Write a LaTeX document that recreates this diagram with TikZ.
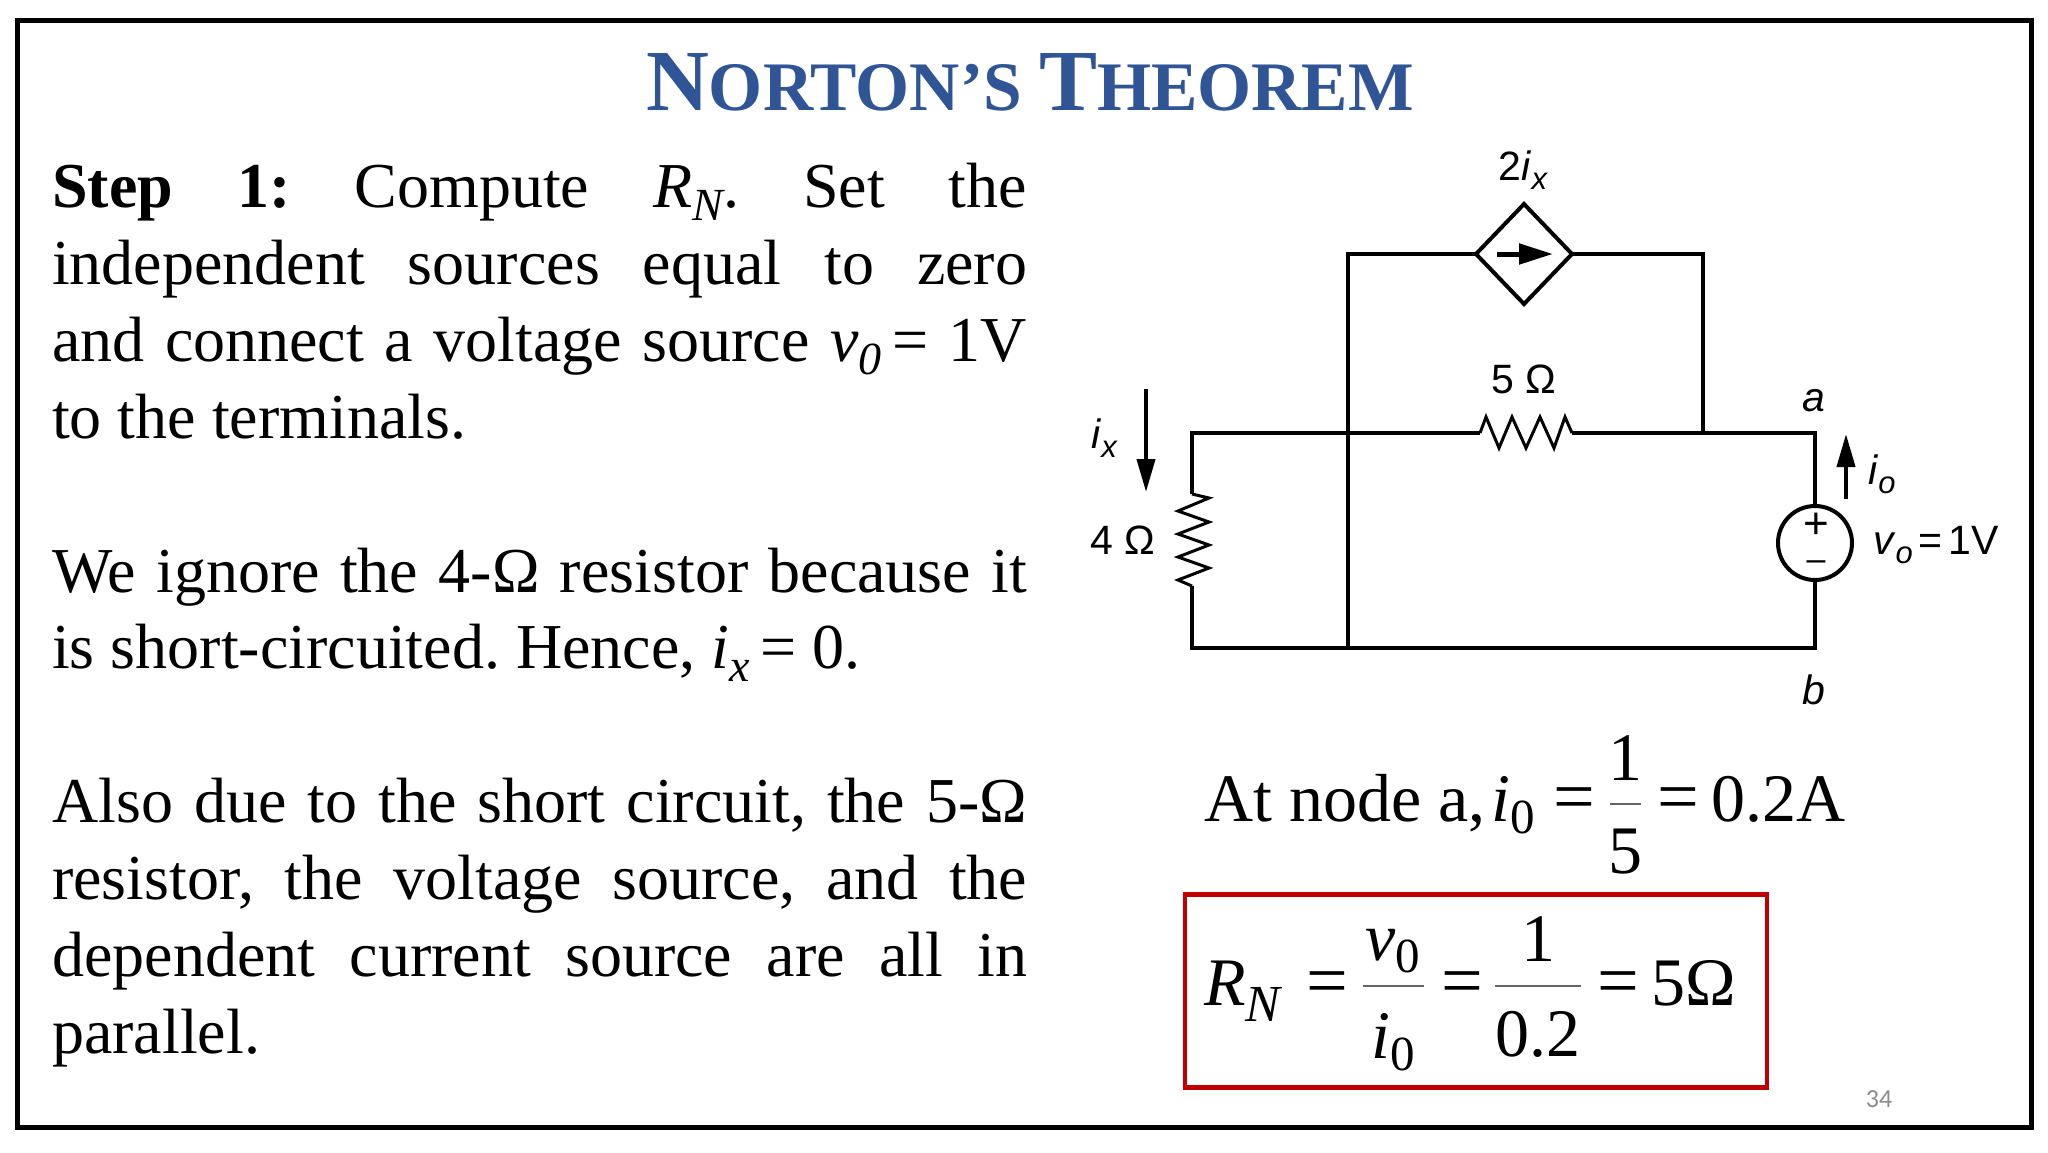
\documentclass[tikz,border=0pt]{standalone}
\usepackage{fontspec}
\setmainfont{Liberation Serif}
\newfontfamily\circfont{Liberation Sans}
\newfontfamily\numfont{Carlito}
\usetikzlibrary{arrows.meta}
\definecolor{titleblue}{HTML}{2F5597}
\definecolor{boxred}{HTML}{C00000}
\definecolor{pagegray}{HTML}{8C8C8C}
\newcommand{\bodyline}[1]{\hbox to 975pt{\frenchspacing\strut #1}}
\newcommand{\sbs}[1]{\raisebox{-13pt}{\fontsize{46}{46}\selectfont\itshape #1}}
\newcommand{\esub}[1]{\raisebox{-12pt}{\fontsize{49}{49}\selectfont #1}}
\newcommand{\csub}[1]{\raisebox{-9pt}{\fontsize{31}{31}\selectfont\itshape #1}}
\tikzset{
  x=1pt,y=-1pt,
  body/.style={anchor=base west,inner sep=0pt,font=\fontsize{64}{70}\selectfont\frenchspacing},
  eqn/.style={anchor=base west,inner sep=0pt,font=\fontsize{68}{70}\selectfont},
  eqs/.style={anchor=base west,inner sep=0pt,font=\fontsize{74}{70}\selectfont},
  eqnc/.style={anchor=base,inner sep=0pt,font=\fontsize{68}{70}\selectfont},
  lab/.style={inner sep=0pt,font=\circfont\fontsize{41}{44}\selectfont},
  wire/.style={draw=black,line width=4pt,line join=miter},
  fracbar/.style={draw=black!60,line width=1.2pt},
  curarrow/.style={draw=black,line width=4pt,-{Triangle[length=33pt,width=18pt]}},
}
\begin{document}
\begin{tikzpicture}
\useasboundingbox (0,0) rectangle (2048,1152);
\fill[white] (0,0) rectangle (2048,1152);
\draw[line width=5pt] (17,20) rectangle (2031,1127);
% title
\node[anchor=base,inner sep=0pt,text=titleblue] (title) at (1030,110)
  {\bfseries\fontsize{87}{87}\selectfont N\fontsize{69.5}{70}\selectfont ORTON’S \fontsize{87}{87}\selectfont T\fontsize{69.5}{70}\selectfont HEOREM};
% body
\node[body] (l1) at (52,207) {\bodyline{\textbf{Step 1:} Compute \textit{R}\sbs{N}. Set the}};
\node[body] (l2) at (52,284) {\bodyline{independent sources equal to zero}};
\node[body] (l3) at (52,361) {\bodyline{and connect a voltage source \textit{v}\sbs{0}\,= 1V}};
\node[body] (l4) at (52,438) {to the terminals.};
\node[body] (l5) at (52,592) {\bodyline{We ignore the 4-Ω resistor because it}};
\node[body] (l6) at (52,668) {is short-circuited. Hence, \textit{i}\sbs{x}\,= 0.};
\node[body] (l7) at (52,822) {\bodyline{Also due to the short circuit, the 5-Ω}};
\node[body] (l8) at (52,899) {\bodyline{resistor, the voltage source, and the}};
\node[body] (l9) at (52,976) {\bodyline{dependent current source are all in}};
\node[body] (l10) at (52,1053) {parallel.};
% circuit corners
\coordinate (bl) at (1192,648);
\coordinate (bm) at (1348,648);
\coordinate (br) at (1815,648);
\coordinate (ml) at (1192,433);
\coordinate (mm) at (1348,433);
\coordinate (mr) at (1703,433);
\coordinate (a) at (1815,433);
\coordinate (tl) at (1348,254);
\coordinate (tr) at (1703,254);
\coordinate (rA) at (1480,433);
\coordinate (rB) at (1572,433);
\coordinate (rC) at (1192,494);
\coordinate (rD) at (1192,586);
\coordinate (dl) at (1476,254);
\coordinate (dr) at (1572,254);
\coordinate (dt) at (1524,204);
\coordinate (db) at (1524,304);
\node[draw=black,line width=4pt,circle,minimum size=74pt,inner sep=0pt] (src) at (1815,543) {};
\draw[wire] (dl) -- (dt) -- (dr) -- (db) -- cycle;
\draw[wire] (dl) -- (tl) -- (bm);
\draw[wire] (dr) -- (tr) -- (mr);
\draw[wire] (rC) -- (ml) -- (rA);
\draw[wire] (rB) -- (a) -- (src.north);
\draw[wire] (rD) -- (bl) -- (br) -- (src.south);
\draw[wire,line width=3pt] (rA) -- (1486,417) -- (1499,448) -- (1512,417) -- (1526,448) -- (1540,417) -- (1554,448) -- (1565,417) -- (rB);
\draw[wire,line width=3pt] (rC) -- (1209,498) -- (1178,511) -- (1209,522) -- (1178,534) -- (1209,545) -- (1178,557) -- (1209,568) -- (1178,580) -- (rD);
% arrows
\coordinate (dA) at (1497,254);
\coordinate (dB) at (1553,254);
\draw[draw=black,line width=5pt,-{Triangle[length=34pt,width=20pt]}] (dA) -- (dB);
\coordinate (ixA) at (1146,389);
\coordinate (ixB) at (1146,492);
\draw[curarrow] (ixA) -- (ixB);
\coordinate (ioA) at (1846,499);
\coordinate (ioB) at (1846,434);
\draw[curarrow] (ioA) -- (ioB);
% source signs
\node[lab,font=\circfont\fontsize{44}{44}\selectfont] (plus) at (1816,526) {+};
\node[lab,font=\circfont\fontsize{34}{34}\selectfont] (minus) at (1816,566) {–};
% labels
\node[lab] (l2ix) at (1523,170) {2\textit{i}\csub{x}};
\node[lab] (l5o) at (1524,379) {5 Ω};
\node[lab] (la) at (1814,401) {\textit{a}};
\node[lab] (lb) at (1814,690) {\textit{b}};
\node[lab] (lix) at (1104,438) {\textit{i}\csub{x}};
\node[lab] (lio) at (1882,474) {\textit{i}\csub{o}};
\node[lab] (l4o) at (1123,540) {4 Ω};
\node[lab,anchor=west] (lvo) at (1873,545) {\textit{v}\csub{o}\hspace{6pt}=\hspace{6pt}1V};
% equation 1
\node[eqn] (e1a) at (1204,821) {At node a,};
\node[eqn] (e1b) at (1491,821) {\textit{i}\esub{0}};
\node[eqs] (e1c) at (1553,821) {=};
\node[eqnc] (e1n) at (1625,780) {1};
\node[eqnc] (e1d) at (1625,873) {5};
\coordinate (e1L) at (1610,804);
\coordinate (e1R) at (1641,804);
\draw[fracbar] (e1L) -- (e1R);
\node[eqs] (e1e) at (1657,821) {=};
\node[eqn] (e1f) at (1711,821) {0.2A};
% box
\node[draw=boxred,line width=4.5pt,minimum width=582pt,minimum height=193pt,inner sep=0pt] (rbox) at (1476,991) {};
\node[eqn] (e2a) at (1204,1005) {\textit{R}\raisebox{-16pt}{\fontsize{52}{52}\selectfont\itshape N}};
\node[eqs] (e2b) at (1306,1005) {=};
\node[eqnc] (e2n) at (1393,960) {\textit{v}\esub{0}};
\node[eqnc] (e2d) at (1393,1058) {\textit{i}\esub{0}};
\coordinate (e2L) at (1363,986);
\coordinate (e2R) at (1424,986);
\draw[fracbar] (e2L) -- (e2R);
\node[eqs] (e2c) at (1441,1005) {=};
\node[eqnc] (e2m) at (1538,961) {1};
\node[eqnc] (e2o) at (1538,1056) {0.2};
\coordinate (e2P) at (1495,986);
\coordinate (e2Q) at (1581,986);
\draw[fracbar] (e2P) -- (e2Q);
\node[eqs] (e2e) at (1597,1005) {=};
\node[eqn] (e2f) at (1651,1005) {5Ω};
% page number
\node[inner sep=0pt,text=pagegray,font=\numfont\fontsize{26}{26}\selectfont] (pg) at (1879,1099) {34};
\end{tikzpicture}
\end{document}
